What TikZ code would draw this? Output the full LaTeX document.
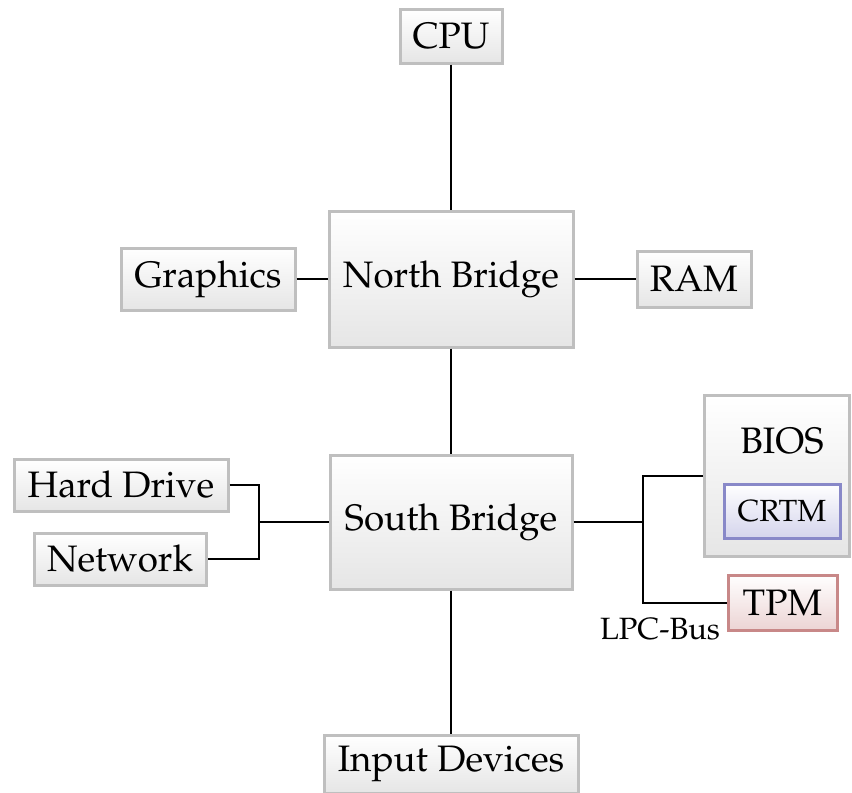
\documentclass[tikz,border=0pt]{standalone}
\usepackage[T1]{fontenc}
\usepackage{mathpazo}
\definecolor{crtmline}{RGB}{136,136,200}
\definecolor{crtmfill}{RGB}{212,212,236}
\definecolor{tpmline}{RGB}{200,136,136}
\definecolor{tpmfill}{RGB}{236,212,212}
\begin{document}
\begin{tikzpicture}[x=0.5pt,y=-0.5pt,
  box/.style={draw=black!25, line width=1.5pt, top color=white, bottom color=black!10,
    inner sep=0pt, font=\fontsize{18.4}{22}\selectfont},
  bluebox/.style={box, draw=crtmline, top color=white, bottom color=crtmfill, font=\fontsize{15.3}{18}\selectfont},
  redbox/.style={box, draw=tpmline, top color=white, bottom color=tpmfill},
  conn/.style={line width=1pt, black}]
\useasboundingbox (0,0) rectangle (852,793);
\node[box, minimum width=51pt, minimum height=27pt] (cpu) at (451,36) {CPU};
\node[box, minimum width=122pt, minimum height=68pt] (nb) at (451,279) {North Bridge};
\node[box, minimum width=87pt, minimum height=31pt] (gfx) at (208,279) {Graphics};
\node[box, minimum width=57pt, minimum height=28pt] (ram) at (694,279) {RAM};
\node[box, minimum width=121pt, minimum height=67pt] (sb) at (451,522) {South Bridge};
\node[box, minimum width=107pt, minimum height=26pt] (hd) at (121,485) {Hard Drive};
\node[box, minimum width=86pt, minimum height=26pt] (net) at (120,559) {Network};
\node[box, minimum width=72.5pt, minimum height=80.5pt] (bios) at (777,476) {};
\node[font=\fontsize{18.4}{22}\selectfont, inner sep=0pt] (biost) at (782,441) {BIOS};
\node[bluebox, minimum width=58pt, minimum height=27pt] (crtm) at (782,511) {CRTM};
\node[redbox, minimum width=54.5pt, minimum height=27.5pt] (tpm) at (782.5,602.5) {TPM};
\node[box, minimum width=127pt, minimum height=29pt] (inp) at (451,764) {Input Devices};
\coordinate (jl) at (259,522);
\coordinate (jr) at (643,522);
\draw[conn] (cpu) -- (nb);
\draw[conn] (gfx) -- (nb);
\draw[conn] (nb) -- (ram);
\draw[conn] (nb) -- (sb);
\draw[conn] (sb) -- (inp);
\draw[conn] (sb.west) -- (jl);
\draw[conn] (hd.east) -| (jl) |- (net.east);
\draw[conn] (sb.east) -- (jr);
\draw[conn] (bios.west) -| (jr) |- (tpm.west);
\node[font=\fontsize{15.4}{18}\selectfont, inner sep=0pt] (lpc) at (660,629) {LPC-Bus};
\end{tikzpicture}
\end{document}
